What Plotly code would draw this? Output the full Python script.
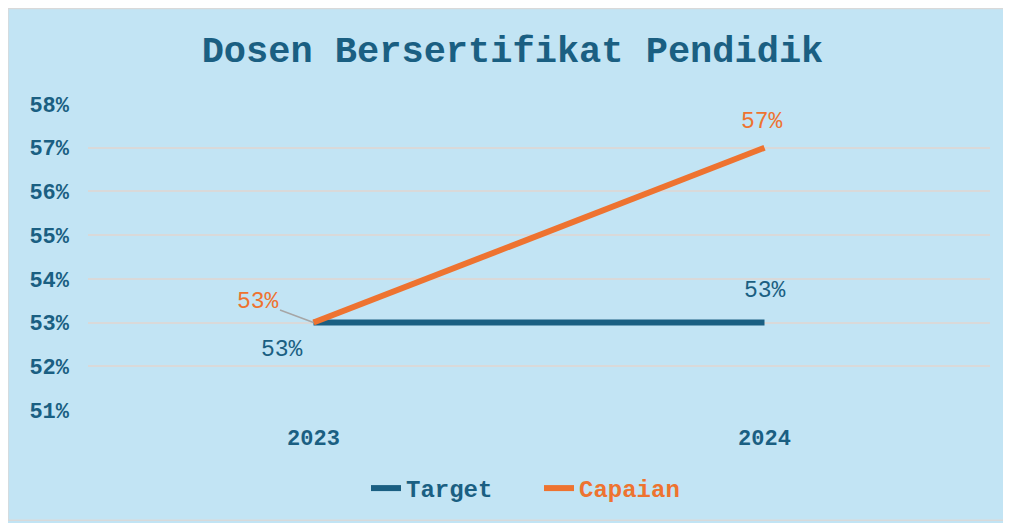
import plotly.graph_objects as go

categories = ["2023", "2024"]
target = [0.53, 0.53]
capaian = [0.53, 0.57]
y_ticks = [0.51, 0.52, 0.53, 0.54, 0.55, 0.56, 0.57, 0.58]

BLUE = "#1A5F82"
ORANGE = "#EE7330"
BG = "#C2E4F4"
FONT = "Liberation Mono, Courier New, monospace"

W, H = 997, 515
ML, MR, MT, MB = 80, 15, 96, 111
PH = H - MT - MB


def py2y(py):
    return (H - MB - py) / PH


def pct(v):
    return f"{round(v*100)}%"


fig = go.Figure()
fig.add_trace(go.Scatter(
    x=categories, y=target, mode="lines",
    name=f"<span style='color:{BLUE}'><b>Target</b></span>",
    line=dict(color=BLUE, width=6),
))
fig.add_trace(go.Scatter(
    x=categories, y=capaian, mode="lines",
    name=f"<span style='color:{ORANGE}'><b>Capaian</b></span>",
    line=dict(color=ORANGE, width=6),
))

lab_font_b = dict(color=BLUE, size=23, family=FONT)
lab_font_o = dict(color=ORANGE, size=23, family=FONT)
annotations = [
    dict(x=categories.index(categories[0]), y=target[0], xref="x", yref="y",
         text=pct(target[0]), showarrow=False,
         xshift=-32, yshift=-27, font=lab_font_b),
    dict(x=categories.index(categories[1]), y=target[1], xref="x", yref="y",
         text=pct(target[1]), showarrow=False,
         yshift=32, font=lab_font_b),
    dict(x=categories.index(categories[0]), y=capaian[0], xref="x", yref="y",
         text=pct(capaian[0]), showarrow=True,
         arrowhead=0, arrowwidth=1.5, arrowcolor="#A6A6A6", ax=-56, ay=-21,
         standoff=0, font=lab_font_o),
    dict(x=categories.index(categories[1]), y=capaian[1], xref="x", yref="y",
         text=pct(capaian[1]), showarrow=False,
         xshift=-3, yshift=26, font=lab_font_o),
]

fig.update_layout(
    width=W, height=H,
    margin=dict(l=ML, r=MR, t=MT, b=MB),
    paper_bgcolor=BG,
    plot_bgcolor=BG,
    title=dict(text="<b>Dosen Bersertifikat Pendidik</b>", x=0.506, xanchor="center",
               y=1 - 41 / H, yanchor="middle",
               font=dict(family=FONT, size=37, color=BLUE)),
    xaxis=dict(type="category", range=[-0.5, 1.5], showgrid=False, zeroline=False,
               showline=False, ticks="", tickfont=dict(family=FONT, size=22, color=BLUE),
               tickvals=categories, ticktext=[f"<b>{c}</b>" for c in categories],
               ticklabelstandoff=12),
    yaxis=dict(range=[0.51, 0.58], tickvals=y_ticks,
               ticktext=[f"<b>{pct(v)}</b>" for v in y_ticks],
               showgrid=True, gridcolor="#D9D9D9", gridwidth=1.5, zeroline=False,
               showline=False, ticks="", ticklabelstandoff=18,
               tickfont=dict(family=FONT, size=22, color=BLUE)),
    legend=dict(orientation="h", x=0.5, xanchor="center", y=py2y(483), yanchor="middle",
                font=dict(family=FONT, size=24, color=BLUE), bgcolor="rgba(0,0,0,0)",
                traceorder="normal", entrywidth=128, entrywidthmode="pixels"),
    annotations=annotations,
    shapes=[dict(type="rect", xref="paper", yref="paper", layer="below",
                 x0=-ML / (W - ML - MR), x1=1 + MR / (W - ML - MR),
                 y0=-MB / PH, y1=1 + MT / PH,
                 fillcolor="rgba(0,0,0,0)", line=dict(color="#D9D9D9", width=1.5))],
    showlegend=True,
    font=dict(family=FONT),
)
fig.update_traces(hoverinfo="skip")

fig.write_html("out.html")
